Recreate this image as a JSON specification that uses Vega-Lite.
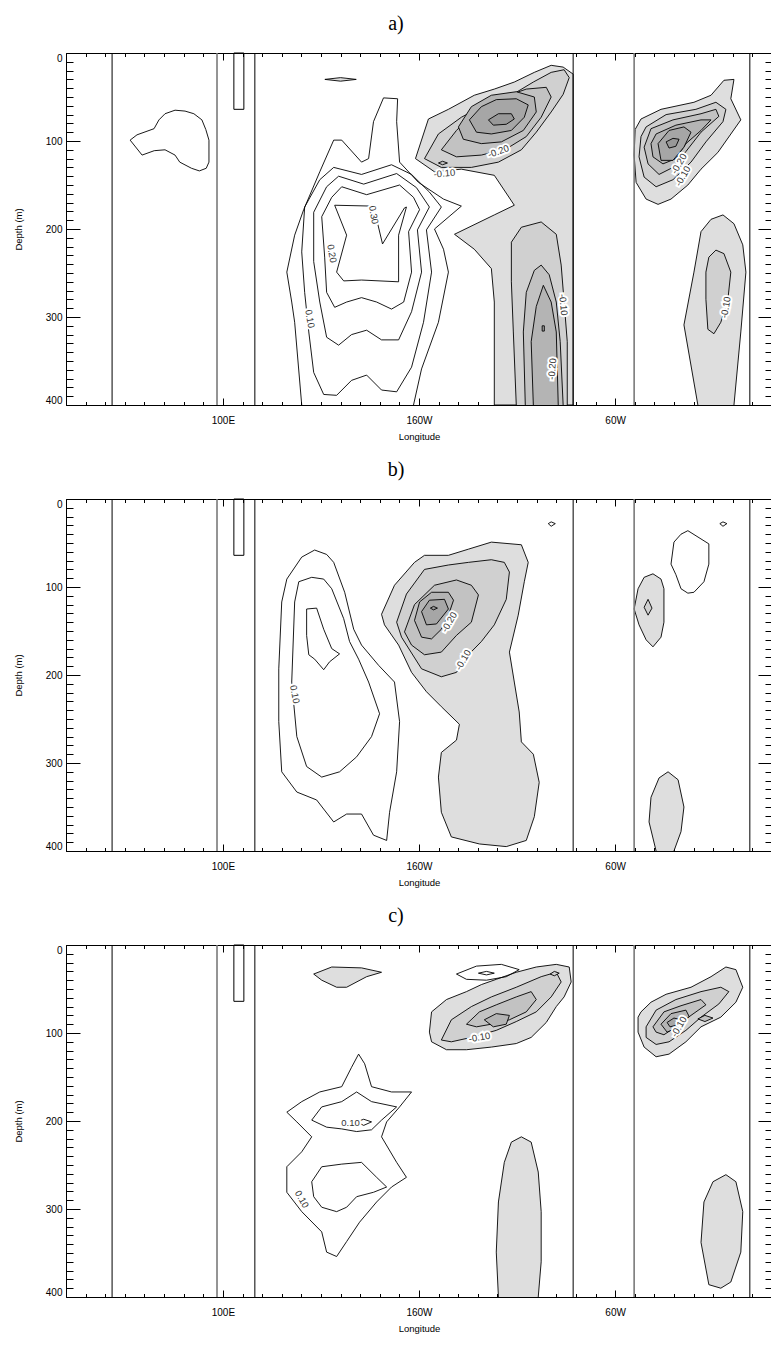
{
"$schema":"https://vega.github.io/schema/vega-lite/v6.json",
"autosize":{"type":"pad"},
"padding":{"left":12,"top":13,"right":1,"bottom":5},
"spacing":94,
"bounds":"flush",
"config":{
 "view":{"stroke":"black","strokeWidth":1},
 "axis":{"grid":false,"domain":false,"labelFont":"Liberation Sans","titleFont":"Liberation Sans","labelColor":"black","titleColor":"black","tickColor":"black","titleFontWeight":"normal","labelFontSize":10,"titleFontSize":9.5,"tickWidth":1},
 "title":{"font":"Liberation Serif","fontSize":20,"fontWeight":"normal","color":"black","offset":18,"dx":-23}
},
"datasets":{
"vl":[{"x":43.5,"k":"b"},{"x":97,"k":"g"},{"x":116.3,"k":"b"},{"x":278.6,"k":"b"},{"x":309.7,"k":"g"},{"x":368.7,"k":"b"}],
"rc":[{"x":105.6,"x2":110.7,"y":0,"y2":64}],
"la":[{"x":144.3,"y":302,"t":"0.10","r":80},{"x":155.5,"y":228,"t":"0.20","r":80},{"x":176.8,"y":184,"t":"0.30","r":80},{"x":213,"y":137,"t":"-0.10","r":-5},{"x":240.5,"y":112,"t":"-0.20","r":-20},{"x":273.5,"y":286,"t":"-0.10","r":85},{"x":268,"y":359,"t":"-0.20","r":-85},{"x":332.6,"y":126,"t":"-0.20","r":-60},{"x":334.6,"y":140,"t":"-0.10","r":-60},{"x":356.5,"y":289,"t":"-0.10","r":-80}],
"lb":[{"x":136.6,"y":222,"t":"0.10","r":80},{"x":215.5,"y":140,"t":"-0.20","r":-60},{"x":222.6,"y":183,"t":"-0.10","r":-60}],
"lc":[{"x":165.1,"y":202,"t":"0.10","r":0},{"x":140.2,"y":289,"t":"0.10","r":60},{"x":230.8,"y":105,"t":"-0.10","r":-10},{"x":332.6,"y":93,"t":"-0.10","r":-60}],
"a":[
{"c":"a1","v":0,"x":52.7,"y":99},{"c":"a1","v":0,"x":56.2,"y":93},{"c":"a1","v":0,"x":64.9,"y":86},{"c":"a1","v":0,"x":67.4,"y":76},{"c":"a1","v":0,"x":70.5,"y":69},{"c":"a1","v":0,"x":75.6,"y":65},{"c":"a1","v":0,"x":80.7,"y":66},{"c":"a1","v":0,"x":85.2,"y":69},{"c":"a1","v":0,"x":89.3,"y":76},{"c":"a1","v":0,"x":91.3,"y":87},{"c":"a1","v":0,"x":92.9,"y":99},{"c":"a1","v":0,"x":92.9,"y":124},{"c":"a1","v":0,"x":91.5,"y":131},{"c":"a1","v":0,"x":88,"y":134},{"c":"a1","v":0,"x":84,"y":131},{"c":"a1","v":0,"x":78,"y":124},{"c":"a1","v":0,"x":75.6,"y":116},{"c":"a1","v":0,"x":70.5,"y":110},{"c":"a1","v":0,"x":65,"y":111},{"c":"a1","v":0,"x":58.8,"y":116},{"c":"a1","v":0,"x":52.7,"y":99},
{"c":"a2","v":1,"x":152,"y":30},{"c":"a2","v":1,"x":160,"y":28},{"c":"a2","v":1,"x":168,"y":30},{"c":"a2","v":1,"x":160,"y":32},{"c":"a2","v":1,"x":152,"y":30},
{"c":"a3","v":0,"x":140.2,"y":400},{"c":"a3","v":0,"x":136.6,"y":306},{"c":"a3","v":0,"x":135.1,"y":283},{"c":"a3","v":0,"x":132.6,"y":249},{"c":"a3","v":0,"x":136.6,"y":207},{"c":"a3","v":0,"x":141.2,"y":178},{"c":"a3","v":0,"x":149.4,"y":135},{"c":"a3","v":0,"x":156.5,"y":99},{"c":"a3","v":0,"x":160.6,"y":99},{"c":"a3","v":0,"x":170.7,"y":124},{"c":"a3","v":0,"x":174.3,"y":120},{"c":"a3","v":0,"x":176.8,"y":78},{"c":"a3","v":0,"x":181.9,"y":51},{"c":"a3","v":0,"x":189.1,"y":52},{"c":"a3","v":0,"x":188.6,"y":78},{"c":"a3","v":0,"x":190.1,"y":124},{"c":"a3","v":0,"x":199.7,"y":147},{"c":"a3","v":0,"x":212.5,"y":166},{"c":"a3","v":0,"x":221.6,"y":174},{"c":"a3","v":0,"x":207.9,"y":200},{"c":"a3","v":0,"x":212.5,"y":223},{"c":"a3","v":0,"x":215,"y":249},{"c":"a3","v":0,"x":209.9,"y":306},{"c":"a3","v":0,"x":201.3,"y":359},{"c":"a3","v":0,"x":197.2,"y":400},
{"c":"a4","v":0,"x":141.7,"y":175},{"c":"a4","v":0,"x":149.4,"y":144},{"c":"a4","v":0,"x":156.5,"y":130},{"c":"a4","v":0,"x":170.7,"y":138},{"c":"a4","v":0,"x":186,"y":127},{"c":"a4","v":0,"x":196.2,"y":138},{"c":"a4","v":0,"x":205.3,"y":158},{"c":"a4","v":0,"x":211.4,"y":175},{"c":"a4","v":0,"x":203.8,"y":201},{"c":"a4","v":0,"x":206.4,"y":249},{"c":"a4","v":0,"x":202.3,"y":306},{"c":"a4","v":0,"x":196.2,"y":357},{"c":"a4","v":0,"x":188.6,"y":385},{"c":"a4","v":0,"x":180.9,"y":383},{"c":"a4","v":0,"x":173.3,"y":366},{"c":"a4","v":0,"x":165.6,"y":372},{"c":"a4","v":0,"x":158,"y":389},{"c":"a4","v":0,"x":151.4,"y":388},{"c":"a4","v":0,"x":146.3,"y":363},{"c":"a4","v":0,"x":143.8,"y":317},{"c":"a4","v":0,"x":141.7,"y":272},{"c":"a4","v":0,"x":140.2,"y":226},{"c":"a4","v":0,"x":141.7,"y":175},
{"c":"a5","v":0,"x":146.3,"y":181},{"c":"a5","v":0,"x":152.9,"y":152},{"c":"a5","v":0,"x":159,"y":140},{"c":"a5","v":0,"x":171.8,"y":149},{"c":"a5","v":0,"x":188.6,"y":137},{"c":"a5","v":0,"x":198.7,"y":153},{"c":"a5","v":0,"x":205.3,"y":175},{"c":"a5","v":0,"x":199.2,"y":201},{"c":"a5","v":0,"x":201.3,"y":249},{"c":"a5","v":0,"x":196.2,"y":294},{"c":"a5","v":0,"x":189.6,"y":326},{"c":"a5","v":0,"x":180.9,"y":326},{"c":"a5","v":0,"x":173.3,"y":315},{"c":"a5","v":0,"x":165.6,"y":320},{"c":"a5","v":0,"x":159,"y":332},{"c":"a5","v":0,"x":152.9,"y":323},{"c":"a5","v":0,"x":149.4,"y":283},{"c":"a5","v":0,"x":146.3,"y":237},{"c":"a5","v":0,"x":146.3,"y":181},
{"c":"a6","v":0,"x":150.4,"y":186},{"c":"a6","v":0,"x":155.5,"y":164},{"c":"a6","v":0,"x":160.6,"y":152},{"c":"a6","v":0,"x":173.3,"y":161},{"c":"a6","v":0,"x":190.1,"y":150},{"c":"a6","v":0,"x":197.2,"y":164},{"c":"a6","v":0,"x":200.3,"y":178},{"c":"a6","v":0,"x":194.7,"y":203},{"c":"a6","v":0,"x":196.2,"y":249},{"c":"a6","v":0,"x":192.2,"y":283},{"c":"a6","v":0,"x":186,"y":291},{"c":"a6","v":0,"x":178.4,"y":283},{"c":"a6","v":0,"x":170.7,"y":278},{"c":"a6","v":0,"x":163.1,"y":283},{"c":"a6","v":0,"x":157,"y":289},{"c":"a6","v":0,"x":152.9,"y":272},{"c":"a6","v":0,"x":151.9,"y":232},{"c":"a6","v":0,"x":150.4,"y":186},
{"c":"a7","v":0,"x":157,"y":173},{"c":"a7","v":0,"x":176.8,"y":174},{"c":"a7","v":0,"x":181.4,"y":217},{"c":"a7","v":0,"x":192.6,"y":176},{"c":"a7","v":0,"x":193.6,"y":175},{"c":"a7","v":0,"x":189.6,"y":207},{"c":"a7","v":0,"x":189.6,"y":260},{"c":"a7","v":0,"x":170.7,"y":258},{"c":"a7","v":0,"x":161.6,"y":259},{"c":"a7","v":0,"x":158,"y":249},{"c":"a7","v":0,"x":163.1,"y":207},{"c":"a7","v":0,"x":157,"y":173},
{"c":"a8","v":1,"x":198.2,"y":120},{"c":"a8","v":1,"x":204.8,"y":75},{"c":"a8","v":1,"x":215,"y":64},{"c":"a8","v":1,"x":228.2,"y":48},{"c":"a8","v":1,"x":238.4,"y":41},{"c":"a8","v":1,"x":248.6,"y":33},{"c":"a8","v":1,"x":258.8,"y":22},{"c":"a8","v":1,"x":267.4,"y":14},{"c":"a8","v":1,"x":273.5,"y":16},{"c":"a8","v":1,"x":278.6,"y":24},{"c":"a8","v":1,"x":278.6,"y":400},{"c":"a8","v":1,"x":238.4,"y":400},{"c":"a8","v":1,"x":238.4,"y":283},{"c":"a8","v":1,"x":236.9,"y":245},{"c":"a8","v":1,"x":228.2,"y":223},{"c":"a8","v":1,"x":218.1,"y":206},{"c":"a8","v":1,"x":238.4,"y":184},{"c":"a8","v":1,"x":248.6,"y":173},{"c":"a8","v":1,"x":238.4,"y":139},{"c":"a8","v":1,"x":221.6,"y":132},{"c":"a8","v":1,"x":207.9,"y":135},{"c":"a8","v":1,"x":198.2,"y":120},
{"c":"a9","v":2,"x":202.8,"y":120},{"c":"a9","v":2,"x":209.9,"y":92},{"c":"a9","v":2,"x":221.6,"y":73},{"c":"a9","v":2,"x":234.4,"y":58},{"c":"a9","v":2,"x":247.1,"y":48},{"c":"a9","v":2,"x":258.3,"y":33},{"c":"a9","v":2,"x":267.4,"y":22},{"c":"a9","v":2,"x":274,"y":19},{"c":"a9","v":2,"x":276.6,"y":28},{"c":"a9","v":2,"x":273.5,"y":47},{"c":"a9","v":2,"x":267.4,"y":67},{"c":"a9","v":2,"x":259.8,"y":90},{"c":"a9","v":2,"x":252.2,"y":110},{"c":"a9","v":2,"x":240.5,"y":124},{"c":"a9","v":2,"x":226.7,"y":130},{"c":"a9","v":2,"x":211.4,"y":130},{"c":"a9","v":2,"x":202.8,"y":120},
{"c":"a10","v":3,"x":211.4,"y":110},{"c":"a10","v":3,"x":219.1,"y":88},{"c":"a10","v":3,"x":229.3,"y":65},{"c":"a10","v":3,"x":242,"y":51},{"c":"a10","v":3,"x":254.7,"y":41},{"c":"a10","v":3,"x":264.9,"y":39},{"c":"a10","v":3,"x":267.4,"y":50},{"c":"a10","v":3,"x":262.3,"y":73},{"c":"a10","v":3,"x":254.7,"y":95},{"c":"a10","v":3,"x":244.5,"y":109},{"c":"a10","v":3,"x":231.8,"y":116},{"c":"a10","v":3,"x":219.1,"y":118},{"c":"a10","v":3,"x":211.4,"y":110},
{"c":"a11","v":4,"x":220.1,"y":84},{"c":"a11","v":4,"x":226.7,"y":61},{"c":"a11","v":4,"x":236.9,"y":48},{"c":"a11","v":4,"x":249.6,"y":44},{"c":"a11","v":4,"x":258.8,"y":50},{"c":"a11","v":4,"x":259.8,"y":67},{"c":"a11","v":4,"x":253.2,"y":88},{"c":"a11","v":4,"x":242,"y":101},{"c":"a11","v":4,"x":231.8,"y":103},{"c":"a11","v":4,"x":222.6,"y":98},{"c":"a11","v":4,"x":220.1,"y":84},
{"c":"a12","v":5,"x":225.7,"y":76},{"c":"a12","v":5,"x":231.8,"y":61},{"c":"a12","v":5,"x":239.4,"y":53},{"c":"a12","v":5,"x":249.6,"y":52},{"c":"a12","v":5,"x":255.7,"y":59},{"c":"a12","v":5,"x":253.7,"y":73},{"c":"a12","v":5,"x":247.1,"y":88},{"c":"a12","v":5,"x":236.9,"y":92},{"c":"a12","v":5,"x":229.3,"y":90},{"c":"a12","v":5,"x":225.7,"y":76},
{"c":"a13","v":6,"x":235.4,"y":76},{"c":"a13","v":6,"x":240.5,"y":69},{"c":"a13","v":6,"x":247.1,"y":69},{"c":"a13","v":6,"x":248.6,"y":75},{"c":"a13","v":6,"x":244.5,"y":81},{"c":"a13","v":6,"x":237.9,"y":82},{"c":"a13","v":6,"x":235.4,"y":76},
{"c":"a14","v":3,"x":209.9,"y":125},{"c":"a14","v":3,"x":212,"y":123},{"c":"a14","v":3,"x":214.5,"y":125},{"c":"a14","v":3,"x":212,"y":127},{"c":"a14","v":3,"x":209.9,"y":125},
{"c":"a15","v":2,"x":249.6,"y":400},{"c":"a15","v":2,"x":248.1,"y":317},{"c":"a15","v":2,"x":247.1,"y":260},{"c":"a15","v":2,"x":247.1,"y":215},{"c":"a15","v":2,"x":252.2,"y":198},{"c":"a15","v":2,"x":262.3,"y":192},{"c":"a15","v":2,"x":270,"y":206},{"c":"a15","v":2,"x":272.5,"y":241},{"c":"a15","v":2,"x":274,"y":283},{"c":"a15","v":2,"x":275.6,"y":328},{"c":"a15","v":2,"x":275.6,"y":400},
{"c":"a16","v":3,"x":254.2,"y":400},{"c":"a16","v":3,"x":253.2,"y":317},{"c":"a16","v":3,"x":254.7,"y":272},{"c":"a16","v":3,"x":258.8,"y":247},{"c":"a16","v":3,"x":262.3,"y":241},{"c":"a16","v":3,"x":266.4,"y":252},{"c":"a16","v":3,"x":270,"y":283},{"c":"a16","v":3,"x":272,"y":328},{"c":"a16","v":3,"x":273.5,"y":400},
{"c":"a17","v":4,"x":258.3,"y":400},{"c":"a17","v":4,"x":257.2,"y":328},{"c":"a17","v":4,"x":259.8,"y":288},{"c":"a17","v":4,"x":263.4,"y":264},{"c":"a17","v":4,"x":267.4,"y":283},{"c":"a17","v":4,"x":270,"y":317},{"c":"a17","v":4,"x":271,"y":400},
{"c":"a18","v":5,"x":262.8,"y":310},{"c":"a18","v":5,"x":263.9,"y":310},{"c":"a18","v":5,"x":263.9,"y":316},{"c":"a18","v":5,"x":262.8,"y":316},{"c":"a18","v":5,"x":262.8,"y":310},
{"c":"a19","v":1,"x":313.2,"y":75},{"c":"a19","v":1,"x":323.4,"y":64},{"c":"a19","v":1,"x":340.2,"y":56},{"c":"a19","v":1,"x":348.9,"y":48},{"c":"a19","v":1,"x":355.5,"y":31},{"c":"a19","v":1,"x":360.6,"y":30},{"c":"a19","v":1,"x":359,"y":52},{"c":"a19","v":1,"x":364.1,"y":76},{"c":"a19","v":1,"x":352.4,"y":113},{"c":"a19","v":1,"x":343.8,"y":132},{"c":"a19","v":1,"x":337.1,"y":150},{"c":"a19","v":1,"x":328.5,"y":166},{"c":"a19","v":1,"x":321.9,"y":172},{"c":"a19","v":1,"x":315.8,"y":166},{"c":"a19","v":1,"x":310.7,"y":147},{"c":"a19","v":1,"x":309.7,"y":116},{"c":"a19","v":1,"x":310.2,"y":87},{"c":"a19","v":1,"x":313.2,"y":75},
{"c":"a20","v":2,"x":315.8,"y":84},{"c":"a20","v":2,"x":326,"y":70},{"c":"a20","v":2,"x":341.2,"y":64},{"c":"a20","v":2,"x":351.4,"y":56},{"c":"a20","v":2,"x":356.5,"y":64},{"c":"a20","v":2,"x":355,"y":78},{"c":"a20","v":2,"x":346.3,"y":101},{"c":"a20","v":2,"x":338.7,"y":124},{"c":"a20","v":2,"x":329.5,"y":144},{"c":"a20","v":2,"x":320.9,"y":152},{"c":"a20","v":2,"x":314.8,"y":141},{"c":"a20","v":2,"x":312.2,"y":118},{"c":"a20","v":2,"x":313.2,"y":95},{"c":"a20","v":2,"x":315.8,"y":84},
{"c":"a21","v":3,"x":318.3,"y":86},{"c":"a21","v":3,"x":329.5,"y":76},{"c":"a21","v":3,"x":343.8,"y":69},{"c":"a21","v":3,"x":351.4,"y":64},{"c":"a21","v":3,"x":352.9,"y":72},{"c":"a21","v":3,"x":343.8,"y":90},{"c":"a21","v":3,"x":336.1,"y":112},{"c":"a21","v":3,"x":329.5,"y":130},{"c":"a21","v":3,"x":322.4,"y":138},{"c":"a21","v":3,"x":316.8,"y":126},{"c":"a21","v":3,"x":314.8,"y":107},{"c":"a21","v":3,"x":318.3,"y":86},
{"c":"a22","v":4,"x":320.9,"y":92},{"c":"a22","v":4,"x":331,"y":82},{"c":"a22","v":4,"x":343.8,"y":76},{"c":"a22","v":4,"x":348.9,"y":76},{"c":"a22","v":4,"x":343.8,"y":88},{"c":"a22","v":4,"x":336.1,"y":103},{"c":"a22","v":4,"x":331,"y":120},{"c":"a22","v":4,"x":324.4,"y":126},{"c":"a22","v":4,"x":319.3,"y":118},{"c":"a22","v":4,"x":318.3,"y":103},{"c":"a22","v":4,"x":320.9,"y":92},
{"c":"a23","v":5,"x":321.9,"y":103},{"c":"a23","v":5,"x":327.5,"y":88},{"c":"a23","v":5,"x":335.1,"y":84},{"c":"a23","v":5,"x":338.7,"y":90},{"c":"a23","v":5,"x":335.1,"y":107},{"c":"a23","v":5,"x":329.5,"y":122},{"c":"a23","v":5,"x":323.4,"y":122},{"c":"a23","v":5,"x":321.9,"y":103},
{"c":"a24","v":6,"x":326,"y":101},{"c":"a24","v":6,"x":329.5,"y":97},{"c":"a24","v":6,"x":332.6,"y":98},{"c":"a24","v":6,"x":331,"y":106},{"c":"a24","v":6,"x":327.5,"y":108},{"c":"a24","v":6,"x":326,"y":101},
{"c":"a25","v":1,"x":342.2,"y":400},{"c":"a25","v":1,"x":335.1,"y":309},{"c":"a25","v":1,"x":340.2,"y":249},{"c":"a25","v":1,"x":343.8,"y":203},{"c":"a25","v":1,"x":348.9,"y":189},{"c":"a25","v":1,"x":355,"y":184},{"c":"a25","v":1,"x":360.6,"y":194},{"c":"a25","v":1,"x":365.1,"y":218},{"c":"a25","v":1,"x":366.7,"y":249},{"c":"a25","v":1,"x":364.1,"y":317},{"c":"a25","v":1,"x":360.6,"y":400},
{"c":"a26","v":2,"x":346.3,"y":249},{"c":"a26","v":2,"x":347.8,"y":232},{"c":"a26","v":2,"x":351.4,"y":224},{"c":"a26","v":2,"x":355.5,"y":228},{"c":"a26","v":2,"x":359,"y":249},{"c":"a26","v":2,"x":357.5,"y":280},{"c":"a26","v":2,"x":353.9,"y":306},{"c":"a26","v":2,"x":350.4,"y":319},{"c":"a26","v":2,"x":347.3,"y":314},{"c":"a26","v":2,"x":346.3,"y":280},{"c":"a26","v":2,"x":346.3,"y":249}
],
"b":[
{"c":"b1","v":0,"x":128.5,"y":193},{"c":"b1","v":0,"x":130,"y":117},{"c":"b1","v":0,"x":132.6,"y":91},{"c":"b1","v":0,"x":140.2,"y":66},{"c":"b1","v":0,"x":146.8,"y":58},{"c":"b1","v":0,"x":152.9,"y":63},{"c":"b1","v":0,"x":156.5,"y":72},{"c":"b1","v":0,"x":162.1,"y":106},{"c":"b1","v":0,"x":166.7,"y":148},{"c":"b1","v":0,"x":170.7,"y":166},{"c":"b1","v":0,"x":179.4,"y":189},{"c":"b1","v":0,"x":187.5,"y":208},{"c":"b1","v":0,"x":190.1,"y":253},{"c":"b1","v":0,"x":188.6,"y":310},{"c":"b1","v":0,"x":185,"y":356},{"c":"b1","v":0,"x":183.5,"y":388},{"c":"b1","v":0,"x":176.8,"y":382},{"c":"b1","v":0,"x":170.7,"y":358},{"c":"b1","v":0,"x":163.1,"y":358},{"c":"b1","v":0,"x":156.5,"y":367},{"c":"b1","v":0,"x":147.8,"y":342},{"c":"b1","v":0,"x":137.7,"y":333},{"c":"b1","v":0,"x":130,"y":310},{"c":"b1","v":0,"x":128.5,"y":253},{"c":"b1","v":0,"x":128.5,"y":193},
{"c":"b2","v":0,"x":135.1,"y":208},{"c":"b2","v":0,"x":136.6,"y":117},{"c":"b2","v":0,"x":138.7,"y":94},{"c":"b2","v":0,"x":145.3,"y":89},{"c":"b2","v":0,"x":151.4,"y":91},{"c":"b2","v":0,"x":155.5,"y":102},{"c":"b2","v":0,"x":161.6,"y":136},{"c":"b2","v":0,"x":164.6,"y":162},{"c":"b2","v":0,"x":169.2,"y":182},{"c":"b2","v":0,"x":174.3,"y":208},{"c":"b2","v":0,"x":179.9,"y":244},{"c":"b2","v":0,"x":175.8,"y":270},{"c":"b2","v":0,"x":168.2,"y":293},{"c":"b2","v":0,"x":159.5,"y":310},{"c":"b2","v":0,"x":150.4,"y":316},{"c":"b2","v":0,"x":142.7,"y":304},{"c":"b2","v":0,"x":137.7,"y":270},{"c":"b2","v":0,"x":135.1,"y":208},
{"c":"b3","v":0,"x":142.7,"y":125},{"c":"b3","v":0,"x":147.8,"y":124},{"c":"b3","v":0,"x":151.4,"y":148},{"c":"b3","v":0,"x":155.5,"y":170},{"c":"b3","v":0,"x":159.5,"y":176},{"c":"b3","v":0,"x":154.4,"y":185},{"c":"b3","v":0,"x":151.4,"y":194},{"c":"b3","v":0,"x":146.8,"y":182},{"c":"b3","v":0,"x":143.8,"y":177},{"c":"b3","v":0,"x":142.7,"y":155},{"c":"b3","v":0,"x":142.7,"y":125},
{"c":"b4","v":1,"x":180.9,"y":131},{"c":"b4","v":1,"x":187.5,"y":98},{"c":"b4","v":1,"x":197.7,"y":72},{"c":"b4","v":1,"x":202.8,"y":64},{"c":"b4","v":1,"x":215,"y":64},{"c":"b4","v":1,"x":225.2,"y":57},{"c":"b4","v":1,"x":236.9,"y":49},{"c":"b4","v":1,"x":252.2,"y":52},{"c":"b4","v":1,"x":255.7,"y":72},{"c":"b4","v":1,"x":253.7,"y":94},{"c":"b4","v":1,"x":250.6,"y":132},{"c":"b4","v":1,"x":246.1,"y":174},{"c":"b4","v":1,"x":248.6,"y":208},{"c":"b4","v":1,"x":251.1,"y":242},{"c":"b4","v":1,"x":252.2,"y":276},{"c":"b4","v":1,"x":258.3,"y":290},{"c":"b4","v":1,"x":261.3,"y":322},{"c":"b4","v":1,"x":258.8,"y":361},{"c":"b4","v":1,"x":254.7,"y":388},{"c":"b4","v":1,"x":244.5,"y":395},{"c":"b4","v":1,"x":230.8,"y":392},{"c":"b4","v":1,"x":216.5,"y":384},{"c":"b4","v":1,"x":211.4,"y":356},{"c":"b4","v":1,"x":209.9,"y":316},{"c":"b4","v":1,"x":211.4,"y":288},{"c":"b4","v":1,"x":219.1,"y":274},{"c":"b4","v":1,"x":220.6,"y":256},{"c":"b4","v":1,"x":211.4,"y":236},{"c":"b4","v":1,"x":203.8,"y":219},{"c":"b4","v":1,"x":196.2,"y":197},{"c":"b4","v":1,"x":189.6,"y":166},{"c":"b4","v":1,"x":182.4,"y":143},{"c":"b4","v":1,"x":180.9,"y":131},
{"c":"b5","v":2,"x":188.6,"y":140},{"c":"b5","v":2,"x":193.6,"y":108},{"c":"b5","v":2,"x":202.8,"y":80},{"c":"b5","v":2,"x":215,"y":75},{"c":"b5","v":2,"x":225.2,"y":72},{"c":"b5","v":2,"x":236.9,"y":69},{"c":"b5","v":2,"x":243.5,"y":72},{"c":"b5","v":2,"x":246.1,"y":83},{"c":"b5","v":2,"x":244.5,"y":114},{"c":"b5","v":2,"x":238.4,"y":143},{"c":"b5","v":2,"x":231.8,"y":162},{"c":"b5","v":2,"x":225.2,"y":177},{"c":"b5","v":2,"x":219.1,"y":197},{"c":"b5","v":2,"x":211.4,"y":202},{"c":"b5","v":2,"x":201.3,"y":193},{"c":"b5","v":2,"x":191.1,"y":157},{"c":"b5","v":2,"x":188.6,"y":140},
{"c":"b6","v":3,"x":192.6,"y":151},{"c":"b6","v":3,"x":197.7,"y":120},{"c":"b6","v":3,"x":207.9,"y":98},{"c":"b6","v":3,"x":219.1,"y":92},{"c":"b6","v":3,"x":226.7,"y":98},{"c":"b6","v":3,"x":230.3,"y":109},{"c":"b6","v":3,"x":226.7,"y":140},{"c":"b6","v":3,"x":219.1,"y":155},{"c":"b6","v":3,"x":211.4,"y":174},{"c":"b6","v":3,"x":202.8,"y":177},{"c":"b6","v":3,"x":196.2,"y":166},{"c":"b6","v":3,"x":192.6,"y":151},
{"c":"b7","v":4,"x":197.7,"y":138},{"c":"b7","v":4,"x":200.3,"y":117},{"c":"b7","v":4,"x":206.4,"y":106},{"c":"b7","v":4,"x":215,"y":106},{"c":"b7","v":4,"x":217.6,"y":115},{"c":"b7","v":4,"x":215,"y":132},{"c":"b7","v":4,"x":211.4,"y":148},{"c":"b7","v":4,"x":206.4,"y":159},{"c":"b7","v":4,"x":201.3,"y":157},{"c":"b7","v":4,"x":197.7,"y":138},
{"c":"b8","v":5,"x":201.3,"y":128},{"c":"b8","v":5,"x":205.3,"y":115},{"c":"b8","v":5,"x":213,"y":114},{"c":"b8","v":5,"x":215,"y":125},{"c":"b8","v":5,"x":208.9,"y":142},{"c":"b8","v":5,"x":203.8,"y":143},{"c":"b8","v":5,"x":201.3,"y":128},
{"c":"b9","v":6,"x":205.8,"y":124},{"c":"b9","v":6,"x":207.4,"y":122},{"c":"b9","v":6,"x":209.4,"y":124},{"c":"b9","v":6,"x":207.4,"y":126},{"c":"b9","v":6,"x":205.8,"y":124},
{"c":"b10","v":0,"x":265.9,"y":28},{"c":"b10","v":0,"x":267.4,"y":26},{"c":"b10","v":0,"x":269.5,"y":28},{"c":"b10","v":0,"x":267.4,"y":31},{"c":"b10","v":0,"x":265.9,"y":28},
{"c":"b11","v":0,"x":353.4,"y":28},{"c":"b11","v":0,"x":355,"y":26},{"c":"b11","v":0,"x":357,"y":28},{"c":"b11","v":0,"x":355,"y":31},{"c":"b11","v":0,"x":353.4,"y":28},
{"c":"b12","v":0,"x":337.1,"y":36},{"c":"b12","v":0,"x":347.8,"y":51},{"c":"b12","v":0,"x":347.8,"y":74},{"c":"b12","v":0,"x":345.3,"y":94},{"c":"b12","v":0,"x":340.2,"y":106},{"c":"b12","v":0,"x":337.1,"y":107},{"c":"b12","v":0,"x":333.6,"y":102},{"c":"b12","v":0,"x":331,"y":86},{"c":"b12","v":0,"x":328.5,"y":74},{"c":"b12","v":0,"x":330,"y":49},{"c":"b12","v":0,"x":333.6,"y":40},{"c":"b12","v":0,"x":337.1,"y":36},
{"c":"b13","v":1,"x":319.3,"y":85},{"c":"b13","v":1,"x":323.4,"y":91},{"c":"b13","v":1,"x":324.9,"y":102},{"c":"b13","v":1,"x":324.9,"y":140},{"c":"b13","v":1,"x":323.4,"y":157},{"c":"b13","v":1,"x":319.3,"y":168},{"c":"b13","v":1,"x":315.8,"y":160},{"c":"b13","v":1,"x":312.2,"y":143},{"c":"b13","v":1,"x":309.7,"y":125},{"c":"b13","v":1,"x":311.7,"y":102},{"c":"b13","v":1,"x":314.8,"y":89},{"c":"b13","v":1,"x":319.3,"y":85},
{"c":"b14","v":2,"x":314.8,"y":123},{"c":"b14","v":2,"x":316.8,"y":114},{"c":"b14","v":2,"x":318.8,"y":124},{"c":"b14","v":2,"x":316.8,"y":132},{"c":"b14","v":2,"x":314.8,"y":123},
{"c":"b15","v":1,"x":320.9,"y":400},{"c":"b15","v":1,"x":317.3,"y":367},{"c":"b15","v":1,"x":318.3,"y":339},{"c":"b15","v":1,"x":322.4,"y":317},{"c":"b15","v":1,"x":327,"y":310},{"c":"b15","v":1,"x":332.1,"y":319},{"c":"b15","v":1,"x":335.1,"y":350},{"c":"b15","v":1,"x":333.6,"y":378},{"c":"b15","v":1,"x":330,"y":400}
],
"c":[
{"c":"c1","v":1,"x":146.3,"y":33},{"c":"c1","v":1,"x":155.5,"y":25},{"c":"c1","v":1,"x":170.7,"y":26},{"c":"c1","v":1,"x":180.9,"y":31},{"c":"c1","v":1,"x":173.3,"y":36},{"c":"c1","v":1,"x":163.1,"y":48},{"c":"c1","v":1,"x":158,"y":48},{"c":"c1","v":1,"x":150.4,"y":40},{"c":"c1","v":1,"x":146.3,"y":33},
{"c":"c2","v":0,"x":219.1,"y":33},{"c":"c2","v":0,"x":229.3,"y":24},{"c":"c2","v":0,"x":242,"y":22},{"c":"c2","v":0,"x":251.1,"y":28},{"c":"c2","v":0,"x":244.5,"y":36},{"c":"c2","v":0,"x":234.4,"y":40},{"c":"c2","v":0,"x":224.2,"y":39},{"c":"c2","v":0,"x":219.1,"y":33},
{"c":"c3","v":0,"x":230.3,"y":32},{"c":"c3","v":0,"x":234.4,"y":30},{"c":"c3","v":0,"x":238.4,"y":32},{"c":"c3","v":0,"x":234.4,"y":34},{"c":"c3","v":0,"x":230.3,"y":32},
{"c":"c4","v":1,"x":205.3,"y":99},{"c":"c4","v":1,"x":206.4,"y":76},{"c":"c4","v":1,"x":214,"y":62},{"c":"c4","v":1,"x":224.2,"y":53},{"c":"c4","v":1,"x":231.8,"y":45},{"c":"c4","v":1,"x":239.4,"y":39},{"c":"c4","v":1,"x":249.6,"y":31},{"c":"c4","v":1,"x":259.8,"y":25},{"c":"c4","v":1,"x":270,"y":22},{"c":"c4","v":1,"x":276.6,"y":25},{"c":"c4","v":1,"x":277.6,"y":42},{"c":"c4","v":1,"x":274,"y":59},{"c":"c4","v":1,"x":270,"y":70},{"c":"c4","v":1,"x":264.9,"y":88},{"c":"c4","v":1,"x":257.2,"y":105},{"c":"c4","v":1,"x":249.6,"y":112},{"c":"c4","v":1,"x":236.9,"y":116},{"c":"c4","v":1,"x":224.2,"y":119},{"c":"c4","v":1,"x":214,"y":119},{"c":"c4","v":1,"x":206.4,"y":110},{"c":"c4","v":1,"x":205.3,"y":99},
{"c":"c5","v":2,"x":211.4,"y":108},{"c":"c5","v":2,"x":216.5,"y":85},{"c":"c5","v":2,"x":226.7,"y":70},{"c":"c5","v":2,"x":236.9,"y":59},{"c":"c5","v":2,"x":249.6,"y":48},{"c":"c5","v":2,"x":262.3,"y":36},{"c":"c5","v":2,"x":270,"y":31},{"c":"c5","v":2,"x":272.5,"y":42},{"c":"c5","v":2,"x":267.4,"y":59},{"c":"c5","v":2,"x":259.8,"y":76},{"c":"c5","v":2,"x":249.6,"y":87},{"c":"c5","v":2,"x":239.4,"y":97},{"c":"c5","v":2,"x":226.7,"y":105},{"c":"c5","v":2,"x":216.5,"y":110},{"c":"c5","v":2,"x":211.4,"y":108},
{"c":"c6","v":3,"x":224.2,"y":90},{"c":"c6","v":3,"x":230.8,"y":76},{"c":"c6","v":3,"x":239.4,"y":68},{"c":"c6","v":3,"x":249.6,"y":59},{"c":"c6","v":3,"x":257.2,"y":53},{"c":"c6","v":3,"x":259.8,"y":62},{"c":"c6","v":3,"x":254.7,"y":76},{"c":"c6","v":3,"x":246.1,"y":85},{"c":"c6","v":3,"x":236.9,"y":90},{"c":"c6","v":3,"x":229.3,"y":93},{"c":"c6","v":3,"x":224.2,"y":90},
{"c":"c7","v":4,"x":233.3,"y":85},{"c":"c7","v":4,"x":239.4,"y":78},{"c":"c7","v":4,"x":246.1,"y":80},{"c":"c7","v":4,"x":244.5,"y":90},{"c":"c7","v":4,"x":237.9,"y":93},{"c":"c7","v":4,"x":233.3,"y":85},
{"c":"c8","v":2,"x":266.9,"y":33},{"c":"c8","v":2,"x":269,"y":30},{"c":"c8","v":2,"x":271.5,"y":32},{"c":"c8","v":2,"x":269,"y":35},{"c":"c8","v":2,"x":266.9,"y":33},
{"c":"c9","v":0,"x":169.2,"y":124},{"c":"c9","v":0,"x":172.3,"y":135},{"c":"c9","v":0,"x":175.8,"y":161},{"c":"c9","v":0,"x":186,"y":167},{"c":"c9","v":0,"x":196.2,"y":167},{"c":"c9","v":0,"x":190.1,"y":184},{"c":"c9","v":0,"x":183.5,"y":201},{"c":"c9","v":0,"x":180.9,"y":218},{"c":"c9","v":0,"x":188.6,"y":247},{"c":"c9","v":0,"x":193.6,"y":264},{"c":"c9","v":0,"x":186,"y":275},{"c":"c9","v":0,"x":178.4,"y":292},{"c":"c9","v":0,"x":169.7,"y":315},{"c":"c9","v":0,"x":163.1,"y":337},{"c":"c9","v":0,"x":158,"y":354},{"c":"c9","v":0,"x":152.9,"y":349},{"c":"c9","v":0,"x":150.4,"y":326},{"c":"c9","v":0,"x":140.2,"y":303},{"c":"c9","v":0,"x":132.6,"y":281},{"c":"c9","v":0,"x":132.6,"y":252},{"c":"c9","v":0,"x":140.2,"y":235},{"c":"c9","v":0,"x":145.3,"y":218},{"c":"c9","v":0,"x":137.7,"y":201},{"c":"c9","v":0,"x":132.6,"y":190},{"c":"c9","v":0,"x":140.2,"y":178},{"c":"c9","v":0,"x":149.4,"y":167},{"c":"c9","v":0,"x":160.6,"y":161},{"c":"c9","v":0,"x":165.6,"y":139},{"c":"c9","v":0,"x":169.2,"y":124},
{"c":"c10","v":0,"x":145.3,"y":199},{"c":"c10","v":0,"x":150.4,"y":184},{"c":"c10","v":0,"x":160.6,"y":178},{"c":"c10","v":0,"x":168.2,"y":167},{"c":"c10","v":0,"x":175.8,"y":178},{"c":"c10","v":0,"x":188.6,"y":184},{"c":"c10","v":0,"x":180.9,"y":199},{"c":"c10","v":0,"x":175.8,"y":210},{"c":"c10","v":0,"x":168.2,"y":212},{"c":"c10","v":0,"x":160.6,"y":209},{"c":"c10","v":0,"x":152.9,"y":207},{"c":"c10","v":0,"x":145.3,"y":199},
{"c":"c11","v":0,"x":168.2,"y":201},{"c":"c11","v":0,"x":171.8,"y":198},{"c":"c11","v":0,"x":175.8,"y":201},{"c":"c11","v":0,"x":171.8,"y":205},{"c":"c11","v":0,"x":168.2,"y":201},
{"c":"c12","v":0,"x":145.3,"y":269},{"c":"c12","v":0,"x":150.4,"y":252},{"c":"c12","v":0,"x":160.6,"y":249},{"c":"c12","v":0,"x":170.7,"y":247},{"c":"c12","v":0,"x":178.4,"y":264},{"c":"c12","v":0,"x":183.5,"y":275},{"c":"c12","v":0,"x":176.8,"y":281},{"c":"c12","v":0,"x":168.2,"y":286},{"c":"c12","v":0,"x":163.1,"y":298},{"c":"c12","v":0,"x":158,"y":303},{"c":"c12","v":0,"x":150.4,"y":298},{"c":"c12","v":0,"x":146.3,"y":286},{"c":"c12","v":0,"x":145.3,"y":269},
{"c":"c13","v":1,"x":240.5,"y":400},{"c":"c13","v":1,"x":239.4,"y":349},{"c":"c13","v":1,"x":240.5,"y":292},{"c":"c13","v":1,"x":243.5,"y":247},{"c":"c13","v":1,"x":247.1,"y":224},{"c":"c13","v":1,"x":252.2,"y":218},{"c":"c13","v":1,"x":257.2,"y":224},{"c":"c13","v":1,"x":260.8,"y":258},{"c":"c13","v":1,"x":262.3,"y":303},{"c":"c13","v":1,"x":262.3,"y":360},{"c":"c13","v":1,"x":260.8,"y":400},
{"c":"c14","v":1,"x":313.2,"y":76},{"c":"c14","v":1,"x":318.3,"y":65},{"c":"c14","v":1,"x":326,"y":56},{"c":"c14","v":1,"x":338.7,"y":48},{"c":"c14","v":1,"x":348.9,"y":36},{"c":"c14","v":1,"x":356.5,"y":25},{"c":"c14","v":1,"x":361.6,"y":28},{"c":"c14","v":1,"x":365.1,"y":48},{"c":"c14","v":1,"x":361.6,"y":65},{"c":"c14","v":1,"x":353.9,"y":82},{"c":"c14","v":1,"x":343.8,"y":93},{"c":"c14","v":1,"x":336.1,"y":110},{"c":"c14","v":1,"x":327.5,"y":124},{"c":"c14","v":1,"x":320.9,"y":127},{"c":"c14","v":1,"x":314.8,"y":116},{"c":"c14","v":1,"x":311.7,"y":99},{"c":"c14","v":1,"x":311.7,"y":82},{"c":"c14","v":1,"x":313.2,"y":76},
{"c":"c15","v":2,"x":315.8,"y":93},{"c":"c15","v":2,"x":320.9,"y":74},{"c":"c15","v":2,"x":331,"y":62},{"c":"c15","v":2,"x":343.8,"y":53},{"c":"c15","v":2,"x":353.9,"y":48},{"c":"c15","v":2,"x":358,"y":53},{"c":"c15","v":2,"x":352.9,"y":67},{"c":"c15","v":2,"x":343.8,"y":82},{"c":"c15","v":2,"x":336.1,"y":97},{"c":"c15","v":2,"x":327.5,"y":110},{"c":"c15","v":2,"x":320.9,"y":113},{"c":"c15","v":2,"x":315.8,"y":105},{"c":"c15","v":2,"x":315.8,"y":93},
{"c":"c16","v":3,"x":319.3,"y":93},{"c":"c16","v":3,"x":324.9,"y":76},{"c":"c16","v":3,"x":333.6,"y":69},{"c":"c16","v":3,"x":343.8,"y":62},{"c":"c16","v":3,"x":346.3,"y":68},{"c":"c16","v":3,"x":338.7,"y":80},{"c":"c16","v":3,"x":331,"y":93},{"c":"c16","v":3,"x":324.9,"y":102},{"c":"c16","v":3,"x":320.9,"y":99},{"c":"c16","v":3,"x":319.3,"y":93},
{"c":"c17","v":4,"x":323.4,"y":90},{"c":"c17","v":4,"x":328.5,"y":78},{"c":"c17","v":4,"x":336.1,"y":74},{"c":"c17","v":4,"x":337.7,"y":81},{"c":"c17","v":4,"x":332.6,"y":93},{"c":"c17","v":4,"x":326.5,"y":99},{"c":"c17","v":4,"x":323.4,"y":90},
{"c":"c18","v":5,"x":326.5,"y":88},{"c":"c18","v":5,"x":330,"y":83},{"c":"c18","v":5,"x":333.6,"y":85},{"c":"c18","v":5,"x":331.5,"y":91},{"c":"c18","v":5,"x":328,"y":93},{"c":"c18","v":5,"x":326.5,"y":88},
{"c":"c19","v":3,"x":342.2,"y":84},{"c":"c19","v":3,"x":345.8,"y":80},{"c":"c19","v":3,"x":349.9,"y":83},{"c":"c19","v":3,"x":345.8,"y":87},{"c":"c19","v":3,"x":342.2,"y":84},
{"c":"c20","v":1,"x":347.8,"y":386},{"c":"c20","v":1,"x":343.8,"y":338},{"c":"c20","v":1,"x":345.3,"y":292},{"c":"c20","v":1,"x":349.9,"y":269},{"c":"c20","v":1,"x":356.5,"y":261},{"c":"c20","v":1,"x":361.6,"y":269},{"c":"c20","v":1,"x":365.1,"y":303},{"c":"c20","v":1,"x":364.1,"y":349},{"c":"c20","v":1,"x":359,"y":383},{"c":"c20","v":1,"x":353.9,"y":390},{"c":"c20","v":1,"x":347.8,"y":386}
]
},
"vconcat":[
{"width":706,"height":352,"title":{"text":"a)"},
 "resolve":{"axis":{"x":"independent","y":"independent"}},
 "layer":[
  {"data":{"name":"a"},"transform":[{"filter":"datum.v==1"}],"mark":{"type":"line","fill":"#dedede","stroke":"black","strokeWidth":0.9},
   "encoding":{"x":{"field":"x","type":"quantitative","scale":{"domain":[20,380],"nice":false,"zero":false},"axis":{"orient":"bottom","values":[100,200,300],"ticks":false,"labelExpr":"datum.value==100?'100E':datum.value==200?'160W':'60W'","labelPadding":10,"title":"Longitude","titlePadding":6}},
   "y":{"field":"y","type":"quantitative","scale":{"domain":[0,400],"reverse":true,"nice":false,"zero":false},"axis":{"orient":"left","values":[0,100,200,300,400],"ticks":false,"labelPadding":4,"labelFlush":true,"title":"Depth (m)","titlePadding":22}},
   "detail":{"field":"c"},"order":{"value":null}}},
  {"data":{"name":"a"},"transform":[{"filter":"datum.v==2"}],"mark":{"type":"line","fill":"#d0d0d0","stroke":"black","strokeWidth":0.9},
   "encoding":{"x":{"field":"x","type":"quantitative","scale":{"domain":[20,380],"nice":false,"zero":false},"axis":{"orient":"bottom","values":[20,30,40,50,60,70,80,90,100,110,120,130,140,150,160,170,180,190,200,210,220,230,240,250,260,270,280,290,300,310,320,330,340,350,360,370,380],"tickSize":-3.5,"labels":false,"title":null}},
   "y":{"field":"y","type":"quantitative","scale":{"domain":[0,400],"reverse":true,"nice":false,"zero":false},"axis":{"orient":"left","values":[0,10,20,30,40,50,60,70,80,90,100,110,120,130,140,150,160,170,180,190,200,210,220,230,240,250,260,270,280,290,300,310,320,330,340,350,360,370,380,390,400],"tickSize":-7,"labels":false,"title":null}},
   "detail":{"field":"c"},"order":{"value":null}}},
  {"data":{"name":"a"},"transform":[{"filter":"datum.v==3"}],"mark":{"type":"line","fill":"#c2c2c2","stroke":"black","strokeWidth":0.9},
   "encoding":{"x":{"field":"x","type":"quantitative","scale":{"domain":[20,380],"nice":false,"zero":false},"axis":{"orient":"bottom","values":[100,200,300],"tickSize":-7,"labels":false,"title":null}},
   "y":{"field":"y","type":"quantitative","scale":{"domain":[0,400],"reverse":true,"nice":false,"zero":false},"axis":{"orient":"left","values":[0,100,200,300,400],"tickSize":-14,"labels":false,"title":null}},
   "detail":{"field":"c"},"order":{"value":null}}},
  {"data":{"name":"a"},"transform":[{"filter":"datum.v==4"}],"mark":{"type":"line","fill":"#b4b4b4","stroke":"black","strokeWidth":0.9},
   "encoding":{"x":{"field":"x","type":"quantitative","scale":{"domain":[20,380],"nice":false,"zero":false},"axis":{"orient":"top","values":[20,30,40,50,60,70,80,90,100,110,120,130,140,150,160,170,180,190,200,210,220,230,240,250,260,270,280,290,300,310,320,330,340,350,360,370,380],"tickSize":-3.5,"labels":false,"title":null}},
   "y":{"field":"y","type":"quantitative","scale":{"domain":[0,400],"reverse":true,"nice":false,"zero":false},"axis":{"orient":"right","values":[0,10,20,30,40,50,60,70,80,90,100,110,120,130,140,150,160,170,180,190,200,210,220,230,240,250,260,270,280,290,300,310,320,330,340,350,360,370,380,390,400],"tickSize":-7,"labels":false,"title":null}},
   "detail":{"field":"c"},"order":{"value":null}}},
  {"data":{"name":"a"},"transform":[{"filter":"datum.v==5"}],"mark":{"type":"line","fill":"#a6a6a6","stroke":"black","strokeWidth":0.9},
   "encoding":{"x":{"field":"x","type":"quantitative","scale":{"domain":[20,380],"nice":false,"zero":false},"axis":{"orient":"top","values":[100,200,300],"tickSize":-7,"labels":false,"title":null}},
   "y":{"field":"y","type":"quantitative","scale":{"domain":[0,400],"reverse":true,"nice":false,"zero":false},"axis":{"orient":"right","values":[0,100,200,300,400],"tickSize":-14,"labels":false,"title":null}},
   "detail":{"field":"c"},"order":{"value":null}}},
  {"data":{"name":"a"},"transform":[{"filter":"datum.v==6"}],"mark":{"type":"line","fill":"#989898","stroke":"black","strokeWidth":0.9},
   "encoding":{"x":{"field":"x","type":"quantitative","scale":{"domain":[20,380],"nice":false,"zero":false},"axis":null},
   "y":{"field":"y","type":"quantitative","scale":{"domain":[0,400],"reverse":true,"nice":false,"zero":false},"axis":null},
   "detail":{"field":"c"},"order":{"value":null}}},
  {"data":{"name":"a"},"transform":[{"filter":"datum.v==0"}],"mark":{"type":"line","stroke":"black","strokeWidth":0.9},
   "encoding":{"x":{"field":"x","type":"quantitative","scale":{"domain":[20,380],"nice":false,"zero":false},"axis":null},
   "y":{"field":"y","type":"quantitative","scale":{"domain":[0,400],"reverse":true,"nice":false,"zero":false},"axis":null},
   "detail":{"field":"c"},"order":{"value":null}}},
  {"data":{"name":"vl"},"mark":{"type":"rule"},
   "encoding":{"x":{"field":"x","type":"quantitative","scale":{"domain":[20,380],"nice":false,"zero":false},"axis":null},
   "color":{"field":"k","type":"nominal","scale":{"domain":["b","g"],"range":["black","#7a7a7a"]},"legend":null},
   "strokeWidth":{"field":"k","type":"nominal","scale":{"domain":["b","g"],"range":[1,1.6]},"legend":null}}},
  {"data":{"name":"rc"},"mark":{"type":"rect","filled":false,"color":"black","strokeWidth":1},
   "encoding":{"x":{"field":"x","type":"quantitative","scale":{"domain":[20,380],"nice":false,"zero":false},"axis":null},"x2":{"field":"x2"},
   "y":{"field":"y","type":"quantitative","scale":{"domain":[0,400],"reverse":true,"nice":false,"zero":false},"axis":null},"y2":{"field":"y2"}}},
  {"data":{"name":"la"},"mark":{"type":"text","font":"Liberation Sans","fontSize":9.5,"color":"white","stroke":"white","strokeWidth":4},
   "encoding":{"x":{"field":"x","type":"quantitative","scale":{"domain":[20,380],"nice":false,"zero":false},"axis":null},
   "y":{"field":"y","type":"quantitative","scale":{"domain":[0,400],"reverse":true,"nice":false,"zero":false},"axis":null},
   "text":{"field":"t"},"angle":{"field":"r","type":"quantitative","scale":null}}},
  {"data":{"name":"la"},"mark":{"type":"text","font":"Liberation Sans","fontSize":9.5,"color":"#333"},
   "encoding":{"x":{"field":"x","type":"quantitative","scale":{"domain":[20,380],"nice":false,"zero":false},"axis":null},
   "y":{"field":"y","type":"quantitative","scale":{"domain":[0,400],"reverse":true,"nice":false,"zero":false},"axis":null},
   "text":{"field":"t"},"angle":{"field":"r","type":"quantitative","scale":null}}}
 ]},
{"width":706,"height":352,"title":{"text":"b)"},
 "resolve":{"axis":{"x":"independent","y":"independent"}},
 "layer":[
  {"data":{"name":"b"},"transform":[{"filter":"datum.v==1"}],"mark":{"type":"line","fill":"#dedede","stroke":"black","strokeWidth":0.9},
   "encoding":{"x":{"field":"x","type":"quantitative","scale":{"domain":[20,380],"nice":false,"zero":false},"axis":{"orient":"bottom","values":[100,200,300],"ticks":false,"labelExpr":"datum.value==100?'100E':datum.value==200?'160W':'60W'","labelPadding":10,"title":"Longitude","titlePadding":6}},
   "y":{"field":"y","type":"quantitative","scale":{"domain":[0,400],"reverse":true,"nice":false,"zero":false},"axis":{"orient":"left","values":[0,100,200,300,400],"ticks":false,"labelPadding":4,"labelFlush":true,"title":"Depth (m)","titlePadding":22}},
   "detail":{"field":"c"},"order":{"value":null}}},
  {"data":{"name":"b"},"transform":[{"filter":"datum.v==2"}],"mark":{"type":"line","fill":"#d0d0d0","stroke":"black","strokeWidth":0.9},
   "encoding":{"x":{"field":"x","type":"quantitative","scale":{"domain":[20,380],"nice":false,"zero":false},"axis":{"orient":"bottom","values":[20,30,40,50,60,70,80,90,100,110,120,130,140,150,160,170,180,190,200,210,220,230,240,250,260,270,280,290,300,310,320,330,340,350,360,370,380],"tickSize":-3.5,"labels":false,"title":null}},
   "y":{"field":"y","type":"quantitative","scale":{"domain":[0,400],"reverse":true,"nice":false,"zero":false},"axis":{"orient":"left","values":[0,10,20,30,40,50,60,70,80,90,100,110,120,130,140,150,160,170,180,190,200,210,220,230,240,250,260,270,280,290,300,310,320,330,340,350,360,370,380,390,400],"tickSize":-7,"labels":false,"title":null}},
   "detail":{"field":"c"},"order":{"value":null}}},
  {"data":{"name":"b"},"transform":[{"filter":"datum.v==3"}],"mark":{"type":"line","fill":"#c2c2c2","stroke":"black","strokeWidth":0.9},
   "encoding":{"x":{"field":"x","type":"quantitative","scale":{"domain":[20,380],"nice":false,"zero":false},"axis":{"orient":"bottom","values":[100,200,300],"tickSize":-7,"labels":false,"title":null}},
   "y":{"field":"y","type":"quantitative","scale":{"domain":[0,400],"reverse":true,"nice":false,"zero":false},"axis":{"orient":"left","values":[0,100,200,300,400],"tickSize":-14,"labels":false,"title":null}},
   "detail":{"field":"c"},"order":{"value":null}}},
  {"data":{"name":"b"},"transform":[{"filter":"datum.v==4"}],"mark":{"type":"line","fill":"#b4b4b4","stroke":"black","strokeWidth":0.9},
   "encoding":{"x":{"field":"x","type":"quantitative","scale":{"domain":[20,380],"nice":false,"zero":false},"axis":{"orient":"top","values":[20,30,40,50,60,70,80,90,100,110,120,130,140,150,160,170,180,190,200,210,220,230,240,250,260,270,280,290,300,310,320,330,340,350,360,370,380],"tickSize":-3.5,"labels":false,"title":null}},
   "y":{"field":"y","type":"quantitative","scale":{"domain":[0,400],"reverse":true,"nice":false,"zero":false},"axis":{"orient":"right","values":[0,10,20,30,40,50,60,70,80,90,100,110,120,130,140,150,160,170,180,190,200,210,220,230,240,250,260,270,280,290,300,310,320,330,340,350,360,370,380,390,400],"tickSize":-7,"labels":false,"title":null}},
   "detail":{"field":"c"},"order":{"value":null}}},
  {"data":{"name":"b"},"transform":[{"filter":"datum.v==5"}],"mark":{"type":"line","fill":"#a6a6a6","stroke":"black","strokeWidth":0.9},
   "encoding":{"x":{"field":"x","type":"quantitative","scale":{"domain":[20,380],"nice":false,"zero":false},"axis":{"orient":"top","values":[100,200,300],"tickSize":-7,"labels":false,"title":null}},
   "y":{"field":"y","type":"quantitative","scale":{"domain":[0,400],"reverse":true,"nice":false,"zero":false},"axis":{"orient":"right","values":[0,100,200,300,400],"tickSize":-14,"labels":false,"title":null}},
   "detail":{"field":"c"},"order":{"value":null}}},
  {"data":{"name":"b"},"transform":[{"filter":"datum.v==6"}],"mark":{"type":"line","fill":"#989898","stroke":"black","strokeWidth":0.9},
   "encoding":{"x":{"field":"x","type":"quantitative","scale":{"domain":[20,380],"nice":false,"zero":false},"axis":null},
   "y":{"field":"y","type":"quantitative","scale":{"domain":[0,400],"reverse":true,"nice":false,"zero":false},"axis":null},
   "detail":{"field":"c"},"order":{"value":null}}},
  {"data":{"name":"b"},"transform":[{"filter":"datum.v==0"}],"mark":{"type":"line","stroke":"black","strokeWidth":0.9},
   "encoding":{"x":{"field":"x","type":"quantitative","scale":{"domain":[20,380],"nice":false,"zero":false},"axis":null},
   "y":{"field":"y","type":"quantitative","scale":{"domain":[0,400],"reverse":true,"nice":false,"zero":false},"axis":null},
   "detail":{"field":"c"},"order":{"value":null}}},
  {"data":{"name":"vl"},"mark":{"type":"rule"},
   "encoding":{"x":{"field":"x","type":"quantitative","scale":{"domain":[20,380],"nice":false,"zero":false},"axis":null},
   "color":{"field":"k","type":"nominal","scale":{"domain":["b","g"],"range":["black","#7a7a7a"]},"legend":null},
   "strokeWidth":{"field":"k","type":"nominal","scale":{"domain":["b","g"],"range":[1,1.6]},"legend":null}}},
  {"data":{"name":"rc"},"mark":{"type":"rect","filled":false,"color":"black","strokeWidth":1},
   "encoding":{"x":{"field":"x","type":"quantitative","scale":{"domain":[20,380],"nice":false,"zero":false},"axis":null},"x2":{"field":"x2"},
   "y":{"field":"y","type":"quantitative","scale":{"domain":[0,400],"reverse":true,"nice":false,"zero":false},"axis":null},"y2":{"field":"y2"}}},
  {"data":{"name":"lb"},"mark":{"type":"text","font":"Liberation Sans","fontSize":9.5,"color":"white","stroke":"white","strokeWidth":4},
   "encoding":{"x":{"field":"x","type":"quantitative","scale":{"domain":[20,380],"nice":false,"zero":false},"axis":null},
   "y":{"field":"y","type":"quantitative","scale":{"domain":[0,400],"reverse":true,"nice":false,"zero":false},"axis":null},
   "text":{"field":"t"},"angle":{"field":"r","type":"quantitative","scale":null}}},
  {"data":{"name":"lb"},"mark":{"type":"text","font":"Liberation Sans","fontSize":9.5,"color":"#333"},
   "encoding":{"x":{"field":"x","type":"quantitative","scale":{"domain":[20,380],"nice":false,"zero":false},"axis":null},
   "y":{"field":"y","type":"quantitative","scale":{"domain":[0,400],"reverse":true,"nice":false,"zero":false},"axis":null},
   "text":{"field":"t"},"angle":{"field":"r","type":"quantitative","scale":null}}}
 ]},
{"width":706,"height":352,"title":{"text":"c)"},
 "resolve":{"axis":{"x":"independent","y":"independent"}},
 "layer":[
  {"data":{"name":"c"},"transform":[{"filter":"datum.v==1"}],"mark":{"type":"line","fill":"#dedede","stroke":"black","strokeWidth":0.9},
   "encoding":{"x":{"field":"x","type":"quantitative","scale":{"domain":[20,380],"nice":false,"zero":false},"axis":{"orient":"bottom","values":[100,200,300],"ticks":false,"labelExpr":"datum.value==100?'100E':datum.value==200?'160W':'60W'","labelPadding":10,"title":"Longitude","titlePadding":6}},
   "y":{"field":"y","type":"quantitative","scale":{"domain":[0,400],"reverse":true,"nice":false,"zero":false},"axis":{"orient":"left","values":[0,100,200,300,400],"ticks":false,"labelPadding":4,"labelFlush":true,"title":"Depth (m)","titlePadding":22}},
   "detail":{"field":"c"},"order":{"value":null}}},
  {"data":{"name":"c"},"transform":[{"filter":"datum.v==2"}],"mark":{"type":"line","fill":"#d0d0d0","stroke":"black","strokeWidth":0.9},
   "encoding":{"x":{"field":"x","type":"quantitative","scale":{"domain":[20,380],"nice":false,"zero":false},"axis":{"orient":"bottom","values":[20,30,40,50,60,70,80,90,100,110,120,130,140,150,160,170,180,190,200,210,220,230,240,250,260,270,280,290,300,310,320,330,340,350,360,370,380],"tickSize":-3.5,"labels":false,"title":null}},
   "y":{"field":"y","type":"quantitative","scale":{"domain":[0,400],"reverse":true,"nice":false,"zero":false},"axis":{"orient":"left","values":[0,10,20,30,40,50,60,70,80,90,100,110,120,130,140,150,160,170,180,190,200,210,220,230,240,250,260,270,280,290,300,310,320,330,340,350,360,370,380,390,400],"tickSize":-7,"labels":false,"title":null}},
   "detail":{"field":"c"},"order":{"value":null}}},
  {"data":{"name":"c"},"transform":[{"filter":"datum.v==3"}],"mark":{"type":"line","fill":"#c2c2c2","stroke":"black","strokeWidth":0.9},
   "encoding":{"x":{"field":"x","type":"quantitative","scale":{"domain":[20,380],"nice":false,"zero":false},"axis":{"orient":"bottom","values":[100,200,300],"tickSize":-7,"labels":false,"title":null}},
   "y":{"field":"y","type":"quantitative","scale":{"domain":[0,400],"reverse":true,"nice":false,"zero":false},"axis":{"orient":"left","values":[0,100,200,300,400],"tickSize":-14,"labels":false,"title":null}},
   "detail":{"field":"c"},"order":{"value":null}}},
  {"data":{"name":"c"},"transform":[{"filter":"datum.v==4"}],"mark":{"type":"line","fill":"#b4b4b4","stroke":"black","strokeWidth":0.9},
   "encoding":{"x":{"field":"x","type":"quantitative","scale":{"domain":[20,380],"nice":false,"zero":false},"axis":{"orient":"top","values":[20,30,40,50,60,70,80,90,100,110,120,130,140,150,160,170,180,190,200,210,220,230,240,250,260,270,280,290,300,310,320,330,340,350,360,370,380],"tickSize":-3.5,"labels":false,"title":null}},
   "y":{"field":"y","type":"quantitative","scale":{"domain":[0,400],"reverse":true,"nice":false,"zero":false},"axis":{"orient":"right","values":[0,10,20,30,40,50,60,70,80,90,100,110,120,130,140,150,160,170,180,190,200,210,220,230,240,250,260,270,280,290,300,310,320,330,340,350,360,370,380,390,400],"tickSize":-7,"labels":false,"title":null}},
   "detail":{"field":"c"},"order":{"value":null}}},
  {"data":{"name":"c"},"transform":[{"filter":"datum.v==5"}],"mark":{"type":"line","fill":"#a6a6a6","stroke":"black","strokeWidth":0.9},
   "encoding":{"x":{"field":"x","type":"quantitative","scale":{"domain":[20,380],"nice":false,"zero":false},"axis":{"orient":"top","values":[100,200,300],"tickSize":-7,"labels":false,"title":null}},
   "y":{"field":"y","type":"quantitative","scale":{"domain":[0,400],"reverse":true,"nice":false,"zero":false},"axis":{"orient":"right","values":[0,100,200,300,400],"tickSize":-14,"labels":false,"title":null}},
   "detail":{"field":"c"},"order":{"value":null}}},
  {"data":{"name":"c"},"transform":[{"filter":"datum.v==0"}],"mark":{"type":"line","stroke":"black","strokeWidth":0.9},
   "encoding":{"x":{"field":"x","type":"quantitative","scale":{"domain":[20,380],"nice":false,"zero":false},"axis":null},
   "y":{"field":"y","type":"quantitative","scale":{"domain":[0,400],"reverse":true,"nice":false,"zero":false},"axis":null},
   "detail":{"field":"c"},"order":{"value":null}}},
  {"data":{"name":"vl"},"mark":{"type":"rule"},
   "encoding":{"x":{"field":"x","type":"quantitative","scale":{"domain":[20,380],"nice":false,"zero":false},"axis":null},
   "color":{"field":"k","type":"nominal","scale":{"domain":["b","g"],"range":["black","#7a7a7a"]},"legend":null},
   "strokeWidth":{"field":"k","type":"nominal","scale":{"domain":["b","g"],"range":[1,1.6]},"legend":null}}},
  {"data":{"name":"rc"},"mark":{"type":"rect","filled":false,"color":"black","strokeWidth":1},
   "encoding":{"x":{"field":"x","type":"quantitative","scale":{"domain":[20,380],"nice":false,"zero":false},"axis":null},"x2":{"field":"x2"},
   "y":{"field":"y","type":"quantitative","scale":{"domain":[0,400],"reverse":true,"nice":false,"zero":false},"axis":null},"y2":{"field":"y2"}}},
  {"data":{"name":"lc"},"mark":{"type":"text","font":"Liberation Sans","fontSize":9.5,"color":"white","stroke":"white","strokeWidth":4},
   "encoding":{"x":{"field":"x","type":"quantitative","scale":{"domain":[20,380],"nice":false,"zero":false},"axis":null},
   "y":{"field":"y","type":"quantitative","scale":{"domain":[0,400],"reverse":true,"nice":false,"zero":false},"axis":null},
   "text":{"field":"t"},"angle":{"field":"r","type":"quantitative","scale":null}}},
  {"data":{"name":"lc"},"mark":{"type":"text","font":"Liberation Sans","fontSize":9.5,"color":"#333"},
   "encoding":{"x":{"field":"x","type":"quantitative","scale":{"domain":[20,380],"nice":false,"zero":false},"axis":null},
   "y":{"field":"y","type":"quantitative","scale":{"domain":[0,400],"reverse":true,"nice":false,"zero":false},"axis":null},
   "text":{"field":"t"},"angle":{"field":"r","type":"quantitative","scale":null}}}
 ]}
]
}
